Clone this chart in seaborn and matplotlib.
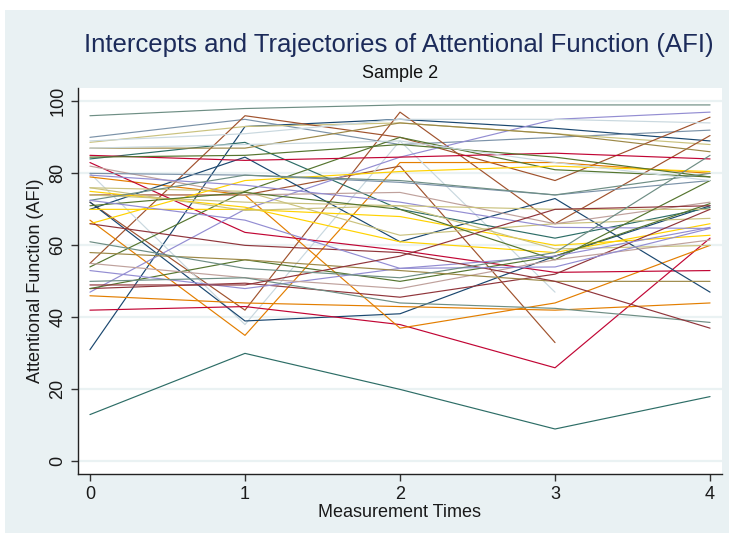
import numpy as np
import pandas as pd
import matplotlib
matplotlib.use("Agg")
import matplotlib.pyplot as plt
import seaborn as sns
from matplotlib.patches import Rectangle

# ---- data ----
times = [0, 1, 2, 3, 4]
x_ticks = [0, 1, 2, 3, 4]
y_ticks = [0, 20, 40, 60, 80, 100]

afi_t0 = [96, 13, 31, 90, 88.6, 55, 72, 67, 74, 80, 72, 42, 46, 79, 83, 70, 84, 76, 54, 47,
          66, 75, 70, 85, 84.5, 87, 82, 80, 79.5, 76, 74, 72.5, 71, 48, 48, 53, 55, 58, 50, 66,
          72.5, 49, 61, 87, 89]
afi_t1 = [98, 30, 93, 95, 93, 96, 42, 35, 74, 38, 39, 43, 44, 74, 63.6, 84.5, 88.6, 75, 75, 70,
          78, 70.6, 70, 83.6, 85, 87, 74, 79.5, 76.7, 69.7, 72, 79.5, 74.7, 49.5, 56, 48, 51, 56, 51, 60,
          67, 49, 53.6, 88, 91]
afi_t2 = [99, 20, 95, 88, 94, 90, 97, 83, 82, 89, 41, 38, 43, 37, 58.6, 61, 70, 62.8, 90, 84.5,
          80.5, 61, 68, 84.5, 88, 94, 74.7, 77.5, 72, 71, 71, 78, 70, 45.6, 50, 53.6, 48, 53, 44, 58,
          53.6, 57, 51, 89, 95]
afi_t3 = [99, 9, 92.5, 90, 91, 78, 66, 83, 33, 47, 57, 26, 42, 44, 52.5, 73, 62, 66, 81, 95,
          82, 58, 60, 85.6, 84.5, 91, 66, 74, 65, 70, 59, 74, 56, 52, 57, 57, 56, 50, 42.5, 50,
          54, 70, 58, 83, 95]
afi_t4 = [99, 18, 89, 92, 88, 95.6, 90.5, 80, np.nan, np.nan, 71, 62, 44, 60, 53, 47, 70.5, 67.5, 79, 97,
          80.5, 66, 62.8, 84, 79, 86, 72, 78, 64.7, 70, 60, 80, 78, 70, 71.6, 65, 61.5, 50, 38.6, 37,
          64.7, 71, 85, 78, 94]

NAVY, MAROON, FGREEN, DKORANGE, TEAL = "#1a476f", "#90353b", "#55752f", "#e37e00", "#6e8e84"
CRAN, LAV, KHAKI, SIENNA, EMID = "#c10534", "#938dd2", "#cac27e", "#a0522d", "#7b92a8"
EMER, BROWN, EROSE, GOLD, BGRAY = "#2d6d66", "#9c8847", "#bfa19c", "#ffd200", "#c9d8df"

line_colors = [TEAL, EMER, NAVY, EMID, KHAKI, SIENNA, SIENNA, DKORANGE, SIENNA, BGRAY,
               NAVY, CRAN, DKORANGE, DKORANGE, CRAN, NAVY, EMER, KHAKI, FGREEN, LAV,
               GOLD, GOLD, GOLD, CRAN, FGREEN, BROWN, EROSE, EMID, LAV, KHAKI,
               KHAKI, TEAL, FGREEN, MAROON, FGREEN, LAV, EROSE, BROWN, TEAL, MAROON,
               LAV, MAROON, TEAL, BGRAY, BGRAY]

# ---- long table ----
subjects = [f"S{i+1:02d}" for i in range(len(afi_t0))]
rows = []
for i, s in enumerate(subjects):
    for t, col in zip(times, [afi_t0, afi_t1, afi_t2, afi_t3, afi_t4]):
        rows.append({"subject": s, "time": t, "afi": col[i]})
df = pd.DataFrame(rows).dropna()

sns.set_style("white")
plt.rcParams["font.family"] = ["Liberation Sans Narrow", "Liberation Sans", "DejaVu Sans"]

W, H = 729, 537
fig = plt.figure(figsize=(W / 100, H / 100), dpi=100, facecolor="white")
fig.patches.append(Rectangle((5 / W, 4 / H), 724 / W, 523 / H, transform=fig.transFigure,
                             facecolor="#e9f1f3", edgecolor="none", zorder=-10))

ax = fig.add_axes([78 / W, 1 - 474 / H, (722 - 78) / W, (474 - 88) / H])
ax.set_facecolor("white")

sns.lineplot(data=df, x="time", y="afi", hue="subject", hue_order=subjects,
             palette=line_colors, legend=False, linewidth=0.85, estimator=None,
             sort=True, ax=ax)

ax.set_xlim(-0.077, 4.077)
ax.set_ylim(-3.5, 103.7)
ax.set_xticks(x_ticks)
ax.set_yticks(y_ticks)
ax.yaxis.grid(True, color="#eaf2f3", linewidth=1.6)
ax.xaxis.grid(False)
ax.set_axisbelow(True)

for s in ["top", "right"]:
    ax.spines[s].set_visible(False)
for s in ["left", "bottom"]:
    ax.spines[s].set_color("#222222")
    ax.spines[s].set_linewidth(1.0)

ax.tick_params(axis="both", direction="out", length=5, width=1, color="#333333",
               labelsize=13, labelcolor="#1a1a1a", bottom=True, left=True)
for lab in ax.get_yticklabels():
    lab.set_rotation(90)
    lab.set_va("center")

ax.set_xlabel("Measurement Times", fontsize=13, color="#1a1a1a", labelpad=1)
ax.set_ylabel("Attentional Function (AFI)", fontsize=13, color="#1a1a1a", labelpad=4)

fig.text(399 / W, 1 - 45 / H, "Intercepts and Trajectories of Attentional Function (AFI)",
         ha="center", va="center", fontsize=18.5, color="#1c2b5a")
fig.text(400 / W, 1 - 74 / H, "Sample 2", ha="center", va="center", fontsize=13, color="#111111")

fig.savefig("out.png", dpi=100, facecolor="white")
